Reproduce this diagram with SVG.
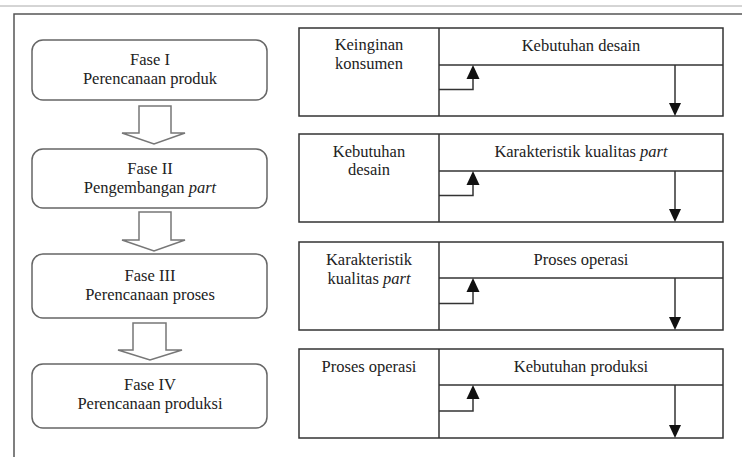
<svg xmlns="http://www.w3.org/2000/svg" width="742" height="457" viewBox="0 0 742 457">
<style>
text{font-family:"Liberation Serif","Times New Roman",serif;font-size:16.5px;fill:#222;text-anchor:middle}
.i{font-style:italic}
.phase{fill:#fff;stroke:#666;stroke-width:1.5}
.hollow{fill:#fff;stroke:#777;stroke-width:1.5;stroke-linejoin:miter}
.tbl{fill:#fff;stroke:#333;stroke-width:1.5}
.ln{fill:none;stroke:#333;stroke-width:1.5}
.ah{fill:#111}
</style>
<rect width="742" height="457" fill="#fff"/>
<line x1="0" y1="6" x2="742" y2="6" stroke="#aaa" stroke-width="1"/>
<path d="M14,457 V14 H742" fill="none" stroke="#555" stroke-width="1.5"/>

<g id="fase1"><rect class="phase" x="32" y="40" width="235" height="60" rx="11"/>
<text x="150" y="65">Fase I</text><text x="150" y="84">Perencanaan produk</text></g>
<g id="fase2"><rect class="phase" x="32" y="149" width="235" height="59" rx="11"/>
<text x="150" y="174">Fase II</text><text x="150" y="193">Pengembangan <tspan class="i">part</tspan></text></g>
<g id="fase3"><rect class="phase" x="32" y="254" width="235" height="64" rx="11"/>
<text x="150" y="281">Fase III</text><text x="150" y="300">Perencanaan proses</text></g>
<g id="fase4"><rect class="phase" x="32" y="364" width="235" height="64" rx="11"/>
<text x="150" y="390">Fase IV</text><text x="150" y="409">Perencanaan produksi</text></g>

<g id="connectors">
<polygon class="hollow" points="139,106 171,106 171,133 185,133 154,144 122,133 139,133"/>
<polygon class="hollow" points="139,212 171,212 171,240 185,240 154,251 122,240 139,240"/>
<polygon class="hollow" points="133,323 166,323 166,350 182,350 150,360 118,350 133,350"/>
</g>

<g id="t1" transform="translate(0,28)">
<rect class="tbl" x="299" y="0" width="424" height="88"/>
<line class="ln" x1="439" y1="0" x2="439" y2="88"/>
<line class="ln" x1="439" y1="37" x2="723" y2="37"/>
<path class="ln" d="M439,61.5 H473 V50"/><polygon class="ah" points="473,37 479.5,51 466.5,51"/>
<line class="ln" x1="675" y1="37" x2="675" y2="76"/><polygon class="ah" points="675,88 669,75 681,75"/>
<text x="369" y="22">Keinginan</text><text x="369" y="41">konsumen</text>
<text x="581" y="23">Kebutuhan desain</text>
</g>
<g id="t2" transform="translate(0,134)">
<rect class="tbl" x="299" y="0" width="424" height="88"/>
<line class="ln" x1="439" y1="0" x2="439" y2="88"/>
<line class="ln" x1="439" y1="37" x2="723" y2="37"/>
<path class="ln" d="M439,61.5 H473 V50"/><polygon class="ah" points="473,37 479.5,51 466.5,51"/>
<line class="ln" x1="675" y1="37" x2="675" y2="76"/><polygon class="ah" points="675,88 669,75 681,75"/>
<text x="369" y="23">Kebutuhan</text><text x="369" y="41">desain</text>
<text x="581" y="23">Karakteristik kualitas <tspan class="i">part</tspan></text>
</g>
<g id="t3" transform="translate(0,242)">
<rect class="tbl" x="299" y="0" width="424" height="88"/>
<line class="ln" x1="439" y1="0" x2="439" y2="88"/>
<line class="ln" x1="439" y1="36" x2="723" y2="36"/>
<path class="ln" d="M439,61.5 H473 V49"/><polygon class="ah" points="473,36 479.5,50 466.5,50"/>
<line class="ln" x1="675" y1="36" x2="675" y2="76"/><polygon class="ah" points="675,88 669,75 681,75"/>
<text x="369" y="23">Karakteristik</text><text x="369" y="42">kualitas <tspan class="i">part</tspan></text>
<text x="581" y="23">Proses operasi</text>
</g>
<g id="t4" transform="translate(0,349)">
<rect class="tbl" x="299" y="0" width="424" height="89"/>
<line class="ln" x1="439" y1="0" x2="439" y2="89"/>
<line class="ln" x1="439" y1="36" x2="723" y2="36"/>
<path class="ln" d="M439,62 H473 V49"/><polygon class="ah" points="473,36 479.5,50 466.5,50"/>
<line class="ln" x1="675" y1="36" x2="675" y2="77"/><polygon class="ah" points="675,89 669,76 681,76"/>
<text x="369" y="23">Proses operasi</text>
<text x="581" y="23">Kebutuhan produksi</text>
</g>
</svg>
